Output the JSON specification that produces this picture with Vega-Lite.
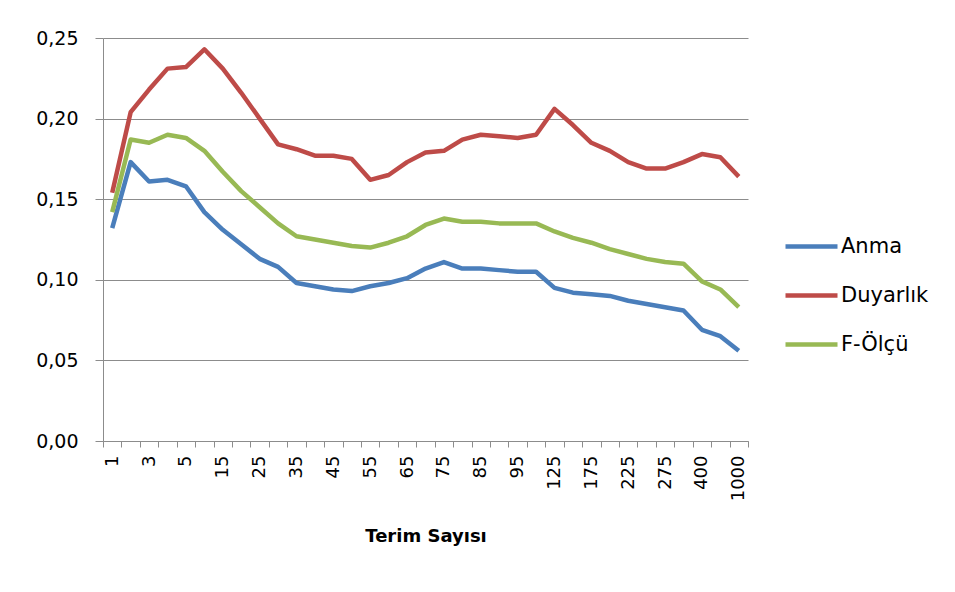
{
  "$schema": "https://vega.github.io/schema/vega-lite/v6.json",
  "width": 645,
  "height": 403,
  "autosize": {"type": "none"},
  "padding": {"left": 103, "top": 38, "right": 207, "bottom": 151},
  "background": "white",
  "config": {
    "locale": {"number": {"decimal": ",", "thousands": ".", "grouping": [3], "currency": ["", " €"]}},
    "font": "DejaVu Sans",
    "view": {"stroke": null}
  },
  "datasets": {
    "d": [
      {"t":"1","Anma":0.132,"Duyarlık":0.154,"F-Ölçü":0.142},
      {"t":"2","Anma":0.173,"Duyarlık":0.204,"F-Ölçü":0.187},
      {"t":"3","Anma":0.161,"Duyarlık":0.218,"F-Ölçü":0.185},
      {"t":"4","Anma":0.162,"Duyarlık":0.231,"F-Ölçü":0.190},
      {"t":"5","Anma":0.158,"Duyarlık":0.232,"F-Ölçü":0.188},
      {"t":"10","Anma":0.142,"Duyarlık":0.243,"F-Ölçü":0.180},
      {"t":"15","Anma":0.131,"Duyarlık":0.231,"F-Ölçü":0.167},
      {"t":"20","Anma":0.122,"Duyarlık":0.216,"F-Ölçü":0.155},
      {"t":"25","Anma":0.113,"Duyarlık":0.200,"F-Ölçü":0.145},
      {"t":"30","Anma":0.108,"Duyarlık":0.184,"F-Ölçü":0.135},
      {"t":"35","Anma":0.098,"Duyarlık":0.181,"F-Ölçü":0.127},
      {"t":"40","Anma":0.096,"Duyarlık":0.177,"F-Ölçü":0.125},
      {"t":"45","Anma":0.094,"Duyarlık":0.177,"F-Ölçü":0.123},
      {"t":"50","Anma":0.093,"Duyarlık":0.175,"F-Ölçü":0.121},
      {"t":"55","Anma":0.096,"Duyarlık":0.162,"F-Ölçü":0.120},
      {"t":"60","Anma":0.098,"Duyarlık":0.165,"F-Ölçü":0.123},
      {"t":"65","Anma":0.101,"Duyarlık":0.173,"F-Ölçü":0.127},
      {"t":"70","Anma":0.107,"Duyarlık":0.179,"F-Ölçü":0.134},
      {"t":"75","Anma":0.111,"Duyarlık":0.180,"F-Ölçü":0.138},
      {"t":"80","Anma":0.107,"Duyarlık":0.187,"F-Ölçü":0.136},
      {"t":"85","Anma":0.107,"Duyarlık":0.190,"F-Ölçü":0.136},
      {"t":"90","Anma":0.106,"Duyarlık":0.189,"F-Ölçü":0.135},
      {"t":"95","Anma":0.105,"Duyarlık":0.188,"F-Ölçü":0.135},
      {"t":"100","Anma":0.105,"Duyarlık":0.190,"F-Ölçü":0.135},
      {"t":"125","Anma":0.095,"Duyarlık":0.206,"F-Ölçü":0.130},
      {"t":"150","Anma":0.092,"Duyarlık":0.196,"F-Ölçü":0.126},
      {"t":"175","Anma":0.091,"Duyarlık":0.185,"F-Ölçü":0.123},
      {"t":"200","Anma":0.090,"Duyarlık":0.180,"F-Ölçü":0.119},
      {"t":"225","Anma":0.087,"Duyarlık":0.173,"F-Ölçü":0.116},
      {"t":"250","Anma":0.085,"Duyarlık":0.169,"F-Ölçü":0.113},
      {"t":"275","Anma":0.083,"Duyarlık":0.169,"F-Ölçü":0.111},
      {"t":"300","Anma":0.081,"Duyarlık":0.173,"F-Ölçü":0.110},
      {"t":"400","Anma":0.069,"Duyarlık":0.178,"F-Ölçü":0.099},
      {"t":"500","Anma":0.065,"Duyarlık":0.176,"F-Ölçü":0.094},
      {"t":"1000","Anma":0.056,"Duyarlık":0.164,"F-Ölçü":0.083}
    ]
  },
  "data": {"name": "d"},
  "transform": [
    {"fold": ["Anma", "Duyarlık", "F-Ölçü"], "as": ["seri", "deger"]}
  ],
  "mark": {"type": "line", "strokeWidth": 4.5, "strokeJoin": "round"},
  "encoding": {
    "x": {
      "field": "t",
      "type": "ordinal",
      "sort": null,
      "scale": {"paddingInner": 0, "paddingOuter": 0},
      "axis": {
        "title": "Terim Sayısı",
        "titleFontSize": 18,
        "titleFontWeight": "bold",
        "titleColor": "#000000",
        "titlePadding": 27,
        "labelAngle": -90,
        "labelFontSize": 18,
        "labelColor": "#000000",
        "labelPadding": 8,
        "labelOverlap": false,
        "labelExpr": "indexof(['1','3','5','15','25','35','45','55','65','75','85','95','125','175','225','275','400','1000'], datum.value) >= 0 ? datum.value : ''",
        "tickBand": "extent",
        "tickSize": 6,
        "tickColor": "#8c8c8c",
        "domainColor": "#8c8c8c",
        "grid": false
      }
    },
    "y": {
      "field": "deger",
      "type": "quantitative",
      "scale": {"domain": [0, 0.25], "nice": false},
      "axis": {
        "title": null,
        "values": [0, 0.05, 0.1, 0.15, 0.2, 0.25],
        "format": ".2f",
        "labelFontSize": 19,
        "labelColor": "#000000",
        "labelPadding": 17,
        "tickSize": 8,
        "tickColor": "#8c8c8c",
        "domainColor": "#8c8c8c",
        "grid": true,
        "gridColor": "#8c8c8c",
        "gridWidth": 1
      }
    },
    "color": {
      "field": "seri",
      "type": "nominal",
      "scale": {"domain": ["Anma", "Duyarlık", "F-Ölçü"], "range": ["#4a7ebb", "#be4b48", "#98b954"]},
      "legend": {
        "title": null,
        "orient": "none",
        "legendX": 680,
        "legendY": 180,
        "symbolType": "stroke",
        "symbolSize": 2704,
        "symbolStrokeWidth": 4.5,
        "labelFontSize": 21,
        "labelColor": "#000000",
        "labelOffset": 1,
        "rowPadding": 10
      }
    }
  }
}
